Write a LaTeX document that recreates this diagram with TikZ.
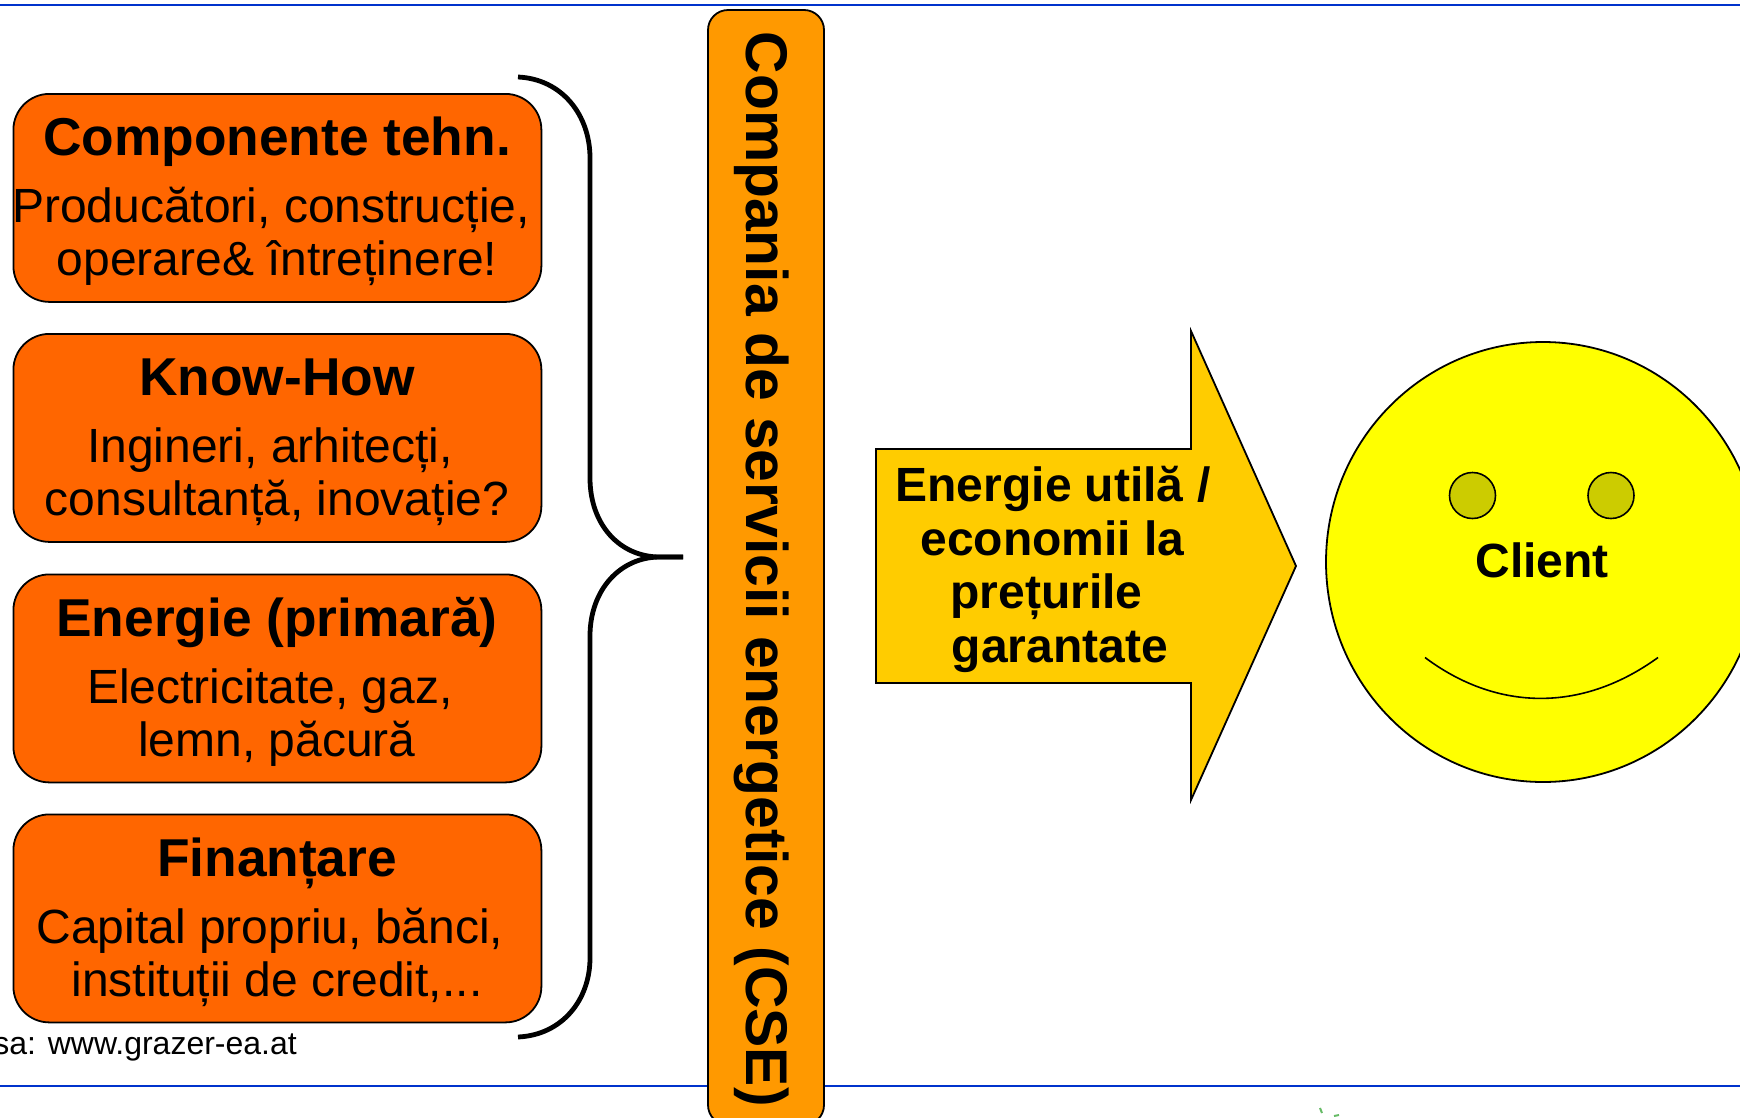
\documentclass[tikz,border=0pt]{standalone}
\usepackage{fontspec}
\usetikzlibrary{shapes.geometric}
\setmainfont{Liberation Sans}
\definecolor{boxorange}{HTML}{FF6600}
\definecolor{cseorange}{HTML}{FF9900}
\definecolor{arrowgold}{HTML}{FFCC00}
\definecolor{faceyellow}{HTML}{FFFF00}
\definecolor{eyeolive}{HTML}{CCCC00}
\definecolor{ruleblue}{HTML}{0033CC}
\definecolor{logogreen}{HTML}{66BB66}
\tikzset{
  x=1pt,y=-1pt,
  card/.style={draw=black,line width=1.8pt,fill=boxorange,rounded corners=36pt,minimum width=528pt,minimum height=208pt,inner sep=0pt,anchor=north west},
  head/.style={inner sep=0pt,anchor=base,font=\fontsize{53.3}{53}\selectfont\bfseries},
  body/.style={inner sep=0pt,anchor=base,font=\fontsize{48}{48}\selectfont},
  bold48/.style={inner sep=0pt,anchor=base,font=\fontsize{48}{48}\selectfont\bfseries},
  rulel/.style={draw=ruleblue,line width=2.4pt},
  bracel/.style={line width=4.8pt},
}
\begin{document}
\begin{tikzpicture}
\useasboundingbox (0,0) rectangle (1740,1117);
\clip (0,0) rectangle (1740,1117);
\fill[white] (0,0) rectangle (1740,1117);
\coordinate (ruleTL) at (0,5); \coordinate (ruleTR) at (1740,5);
\coordinate (ruleBL) at (0,1086); \coordinate (ruleBR) at (1740,1086);
\draw[rulel] (ruleTL) -- (ruleTR);
\draw[rulel] (ruleBL) -- (ruleBR);
\draw[logogreen,line width=2pt] (1320,1108) -- (1322,1113);
\draw[logogreen,line width=2pt] (1334,1116) -- (1339,1115);
% cards
\node[card] (c1) at (12.5,93) {};
\node[card] (c2) at (12.5,333) {};
\node[card] (c3) at (12.5,573.5) {};
\node[card] (c4) at (12.5,813.5) {};
\node[head] (t1) at (277,155) {Componente tehn.};
\node[body] (a1) at (271,222) {Producători, construcție,};
\node[body] (b1) at (277,275) {operare\& întreținere!};
\node[head] (t2) at (277,395.5) {Know-How};
\node[body] (a2) at (270,462.5) {Ingineri, arhitecți,};
\node[body] (b2) at (277,515.5) {consultanță, inovație?};
\node[head] (t3) at (277,636) {Energie (primară)};
\node[body] (a3) at (270,703) {Electricitate, gaz,};
\node[body] (b3) at (277,756) {lemn, păcură};
\node[head] (t4) at (277,876) {Finanțare};
\node[body] (a4) at (270,943) {Capital propriu, bănci,};
\node[body] (b4) at (277,996) {instituții de credit,...};
\node[inner sep=0pt,anchor=base east,font=\fontsize{32}{32}\selectfont] (src) at (297,1054) {sa: www.grazer-ea.at};
% brace
\coordinate (brT) at (518,77); \coordinate (brB) at (518,1037); \coordinate (brM) at (683,557);
\draw[bracel] (brT) .. controls (562,79) and (590,115) .. (590,158)
  -- (590,478) .. controls (590,525) and (620,557) .. (660,557) -- (brM);
\draw[bracel] (brM) -- (660,557) .. controls (620,557) and (590,590) .. (590,636)
  -- (590,958) .. controls (590,1000) and (562,1035) .. (brB);
% CSE bar
\draw[line width=1.8pt,fill=cseorange,rounded corners=20pt] (708,10) rectangle (824,1125);
\node[inner sep=0pt,anchor=base west,rotate=-90,font=\fontsize{58.8}{59}\selectfont\bfseries] (cse) at (746,31.5) {Compania de servicii energetice (CSE)};
% arrow
\draw[line width=1.8pt,fill=arrowgold,line join=miter] (876,449) -- (1191,449) -- (1191,331) -- (1296,566) -- (1191,800) -- (1191,683) -- (876,683) -- cycle;
\node[bold48] (e1) at (1053,501) {Energie utilă /};
\node[bold48] (e2) at (1052.5,555) {economii la};
\node[bold48] (e3) at (1046.5,608) {prețurile};
\node[bold48] (e4) at (1060,662) {garantate};
% face
\node[ellipse,draw=black,line width=1.8pt,fill=faceyellow,minimum width=434pt,minimum height=440pt,inner sep=0pt] (face) at (1543,562) {};
\node[circle,draw=black,line width=1.6pt,fill=eyeolive,minimum size=46pt,inner sep=0pt] (eyeL) at (1472.5,495.5) {};
\node[circle,draw=black,line width=1.6pt,fill=eyeolive,minimum size=46pt,inner sep=0pt] (eyeR) at (1611,495.5) {};
\node[bold48] (client) at (1542,577) {Client};
\coordinate (smL) at (1425,657.5); \coordinate (smR) at (1658,657.5);
\draw[line width=1.6pt] (smL) .. controls (1495,710) and (1580,714) .. (smR);
\end{tikzpicture}
\end{document}
